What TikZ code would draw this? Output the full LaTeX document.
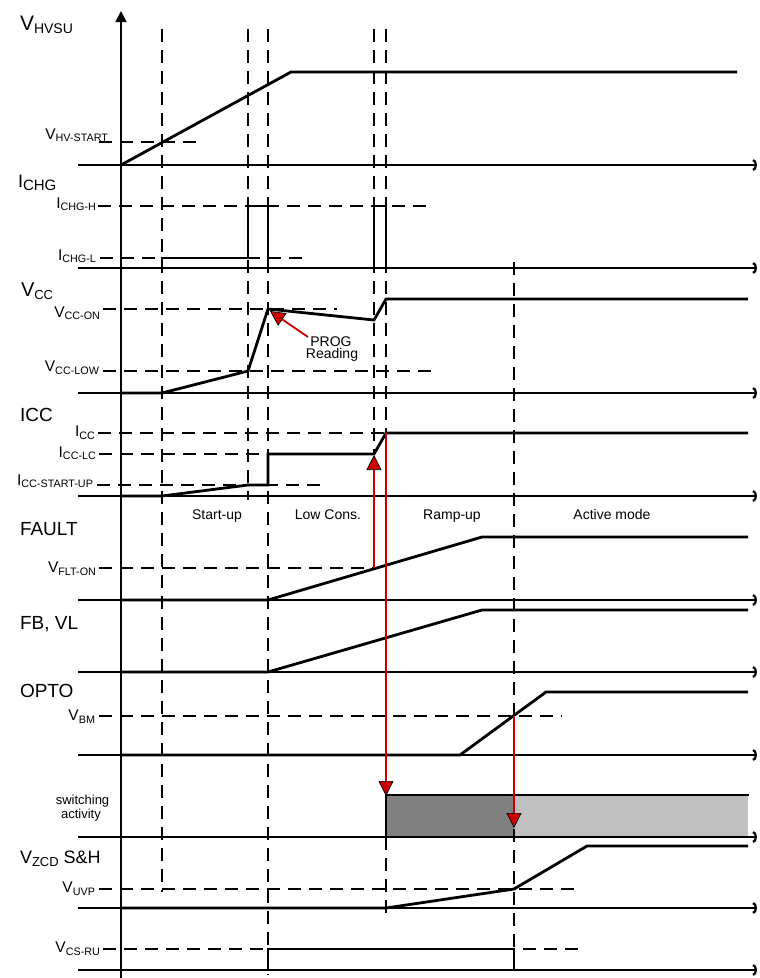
\documentclass[tikz,border=0pt]{standalone}
\usepackage{fontspec}
\setmainfont{Liberation Sans}
\usetikzlibrary{arrows.meta}
\definecolor{rd}{HTML}{CC0000}
\definecolor{dg}{HTML}{808080}
\definecolor{lg}{HTML}{C0C0C0}
\newcommand{\thr}[2]{{\fontsize{15.5}{15.5}\selectfont #1\raisebox{-2.5pt}{\fontsize{10.8}{10.8}\selectfont #2}}}
\newcommand{\bsub}[2]{\raisebox{-3pt}{\fontsize{#1}{#1}\selectfont #2}}
\begin{document}
\begin{tikzpicture}[x=1pt,y=-1pt,
  every node/.style={inner sep=0pt, outer sep=0pt},
  baseln/.style={line width=1.4pt, -{Arc Barb[length=4pt,width=12pt,line width=2.2pt]}},
  sigl/.style={line width=2.8pt, line join=miter},
  dsh/.style={line width=1.4pt, dash pattern=on 13pt off 8pt},
  redarr/.style={line width=1.8pt, draw=rd, -{Triangle[length=15pt,width=15pt,fill=rd,color=black,line width=0.7pt]}},
  biglbl/.style={anchor=base west, font=\fontsize{19}{19}\selectfont},
  thrlbl/.style={anchor=base east},
  phase/.style={anchor=base, font=\fontsize{14}{14}\selectfont}]
\useasboundingbox (0,0) rectangle (760,978);

% switching activity fills
\fill[dg] (387,795) rectangle (514,837);
\fill[lg] (514,795) rectangle (748,837);

% vertical dashed lines
\draw[dsh] (162,29) -- (162,892);
\draw[dsh] (248,29) -- (248,500);
\draw[dsh] (268,29) -- (268,975);
\draw[dsh] (374,29) -- (374,453);
\draw[dsh] (386,29) -- (386,433);
\draw[dsh] (386,837) -- (386,913);
\draw[dsh] (514,262) -- (514,975);

% horizontal threshold dashed lines
\draw[dsh] (99,142) -- (199,142);
\draw[dsh] (98,206) -- (433,206);
\draw[dsh] (100,258) -- (305,258);
\draw[dsh] (103,309) -- (337,309);
\draw[dsh] (103,371) -- (433,371);
\draw[dsh] (98,433) -- (748,433);
\draw[dsh] (99,454) -- (374,454);
\draw[dsh] (97,485) -- (325,485);
\draw[dsh] (99,568) -- (374,568);
\draw[dsh] (99,716) -- (562,716);
\draw[dsh] (99,889) -- (580,889);
\draw[dsh] (103,949) -- (583,949);

% baselines
\foreach \yy in {165,268,393,496,600,672,755,837,908,970}
  \draw[baseln] (78,\yy) -- (757,\yy);

% vertical axis
\draw[line width=1.6pt, -{Triangle[length=11pt,width=11pt]}] (121,978) -- (121,11);

% signals
\draw[sigl] (121,165) -- (291,72) -- (737,72);
\draw[sigl] (121,268) -- (162,268) -- (162,258) -- (248,258) -- (248,206) -- (268,206) -- (268,268) -- (374,268) -- (374,206) -- (386,206) -- (386,268) -- (748,268);
\draw[sigl] (121,393) -- (162,393) -- (248,371) -- (268,309) -- (374,320) -- (386,299) -- (748,299);
\draw[sigl] (121,496) -- (162,496) -- (248,485) -- (268,485) -- (268,454) -- (374,454) -- (386,433) -- (748,433);
\draw[sigl] (121,600) -- (268,600) -- (482,537) -- (748,537);
\draw[sigl] (121,672) -- (268,672) -- (482,610) -- (748,610);
\draw[sigl] (121,755) -- (460,755) -- (546,692) -- (748,692);
\draw[sigl] (121,837) -- (386,837) -- (386,795) -- (749,795);
\draw[sigl] (386,837) -- (514,837);
\draw[sigl] (121,908) -- (386,908) -- (514,889) -- (587,846) -- (748,846);
\draw[sigl] (121,970) -- (268,970) -- (268,949) -- (514,949) -- (514,970);

% red arrows
\draw[redarr] (308,337) -- (270,311);
\draw[redarr] (374,568) -- (374,455);
\draw[redarr] (386,433) -- (386,796);
\draw[redarr] (514,716) -- (514,828);

% signal labels
\node[anchor=base west, font=\fontsize{21}{21}\selectfont] (lhv) at (20,30) {V\bsub{14}{HVSU}};
\node[anchor=base west, font=\fontsize{18}{18}\selectfont] (lchg) at (18,187) {I\bsub{15}{CHG}};
\node[anchor=base west, font=\fontsize{20}{20}\selectfont] (lvcc) at (21,296.5) {V\bsub{13}{CC}};
\node[biglbl] (licc) at (20,421) {ICC};
\node[biglbl] (lflt) at (20,535) {FAULT};
\node[biglbl] (lfb) at (20,629) {FB, VL};
\node[biglbl] (lopto) at (20,697) {OPTO};
\node[anchor=base west, font=\fontsize{18}{18}\selectfont] (lzcd) at (20,863) {V\bsub{13}{ZCD} S\&H};
\node[anchor=base, font=\fontsize{13}{13}\selectfont] (lsw1) at (82.5,804) {switching};
\node[anchor=base, font=\fontsize{13}{13}\selectfont] (lsw2) at (81,818) {activity};

% threshold labels
\node[thrlbl] (thv) at (108,139) {\thr{V}{HV-START}};
\node[thrlbl] (tchgh) at (96,208) {\thr{I}{CHG-H}};
\node[thrlbl] (tchgl) at (96,260) {\thr{I}{CHG-L}};
\node[thrlbl] (tvccon) at (100,317) {\thr{V}{CC-ON}};
\node[thrlbl] (tvcclow) at (99,371.5) {\thr{V}{CC-LOW}};
\node[thrlbl] (ticc) at (95,436.5) {\thr{I}{CC}};
\node[thrlbl] (ticclc) at (96,457) {\thr{I}{CC-LC}};
\node[thrlbl] (ticcsu) at (93,485) {\thr{I}{CC-START-UP}};
\node[thrlbl] (tflt) at (96,572.5) {\thr{V}{FLT-ON}};
\node[thrlbl] (tbm) at (95,720.5) {\thr{V}{BM}};
\node[thrlbl] (tuvp) at (95,892.5) {\thr{V}{UVP}};
\node[thrlbl] (tcsru) at (100,952.5) {\thr{V}{CS-RU}};

% PROG reading
\node[anchor=base, font=\fontsize{14}{14}\selectfont] (prog1) at (331,346) {PROG};
\node[anchor=base, font=\fontsize{14}{14}\selectfont] (prog2) at (332,358) {Reading};

% phase labels
\node[phase] (ph1) at (217,519) {Start-up};
\node[phase] (ph2) at (328,519) {Low Cons.};
\node[phase] (ph3) at (452,519) {Ramp-up};
\node[phase] (ph4) at (612,519) {Active mode};
\end{tikzpicture}
\end{document}
